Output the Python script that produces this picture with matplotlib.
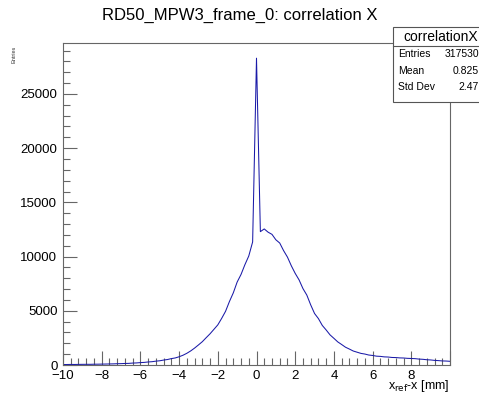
import numpy as np
import matplotlib
matplotlib.use("Agg")
import matplotlib.pyplot as plt
from matplotlib.patches import Rectangle
from matplotlib.ticker import MultipleLocator

plt.rcParams['font.family'] = ['Liberation Sans', 'DejaVu Sans']

# x_ref - x [mm], sampled every 0.2 mm from -10 to 10
x_mm = np.round(np.arange(-10, 10.001, 0.2), 1)

# counts (one per x_mm point)
counts = [
    40, 45, 52, 48, 56, 60, 63, 62, 72, 75,                              # -10.0 .. -8.2
    82, 88, 97, 104, 118, 126, 142, 150, 178, 192,                       # -8.0 .. -6.2
    222, 240, 280, 305, 355, 390, 455, 505, 590, 650,                    # -6.0 .. -4.2
    760, 900, 1080, 1300, 1560, 1850, 2150, 2520, 2880, 3290,            # -4.0 .. -2.2
    3700, 4300, 4950, 5850, 6650, 7650, 8350, 9250, 10050, 11350,        # -2.0 .. -0.2
    28300,                                                               # 0.0
    12300, 12550, 12250, 12050, 11550, 11250, 10550, 9950, 9150, 8450,   # 0.2 .. 2.0
    7850, 7050, 6450, 5550, 4750, 4280, 3650, 3230, 2780, 2460,          # 2.2 .. 4.0
    2130, 1890, 1640, 1470, 1290, 1180, 1070, 1010, 920, 880,            # 4.2 .. 6.0
    815, 795, 750, 735, 695, 685, 655, 645, 615, 600,                    # 6.2 .. 8.0
    585, 545, 525, 485, 465, 425, 405, 375, 365, 340,                    # 8.2 .. 10.0
]

x_ticks = [-10, -8, -6, -4, -2, 0, 2, 4, 6, 8, 10]
x_tick_labels = ["\u221210", "\u22128", "\u22126", "\u22124", "\u22122", "0", "2", "4", "6", "8", ""]

title = "RD50_MPW3_frame_0: correlation X"
stats_name = "correlationX"
stats_rows = [("Entries", "317530"), ("Mean", "0.825"), ("Std Dev", "2.47")]

W, H = 479, 395
fig = plt.figure(figsize=(W / 100, H / 100), dpi=100)
ax = fig.add_axes([63 / W, 1 - 365 / H, (450 - 63) / W, (365 - 43) / H])

ax.plot(x_mm, counts, color='#1a1aa8', lw=0.75)

ax.set_xlim(-10, 10)
ax.set_ylim(0, 29700)
ax.set_xticks(x_ticks)
ax.set_xticklabels(x_tick_labels)
ax.xaxis.set_minor_locator(MultipleLocator(0.4))
ax.yaxis.set_major_locator(MultipleLocator(5000))
ax.yaxis.set_minor_locator(MultipleLocator(1000))
ax.tick_params(which='both', direction='in', color='#666666', labelsize=9.5,
               top=False, right=False)
ax.tick_params(which='major', length=10, width=0.8)
ax.tick_params(which='minor', length=5, width=0.8)
ax.tick_params(axis='y', pad=4)
ax.tick_params(axis='x', pad=3.5)
for s in ax.spines.values():
    s.set_color('#666666')
    s.set_linewidth(0.8)

fig.text(240 / W, 1 - 15 / H, title, ha='center', va='center', fontsize=12)
fig.text(450 / W, 1 - 394 / H, r"x$_{\rm ref}$-x [mm]", ha='right', va='bottom', fontsize=9)
fig.text(14 / W, 1 - 46 / H, "Entries", rotation=90, ha='center', va='top',
         fontsize=4, color='#333333')

# stats box
bx0, by_top, by_bot = 393, 27, 102
fig.patches.append(Rectangle((bx0 / W, 1 - by_bot / H), (W + 5 - bx0) / W, (by_bot - by_top) / H,
                             transform=fig.transFigure, facecolor='white',
                             edgecolor='#555555', lw=0.8, zorder=5))
fig.lines.append(plt.Line2D([bx0 / W, 1.0], [1 - 46 / H, 1 - 46 / H],
                            transform=fig.transFigure, color='#555555', lw=0.8, zorder=6))
fig.text((bx0 + 48) / W, 1 - 37 / H, stats_name, ha='center', va='center', fontsize=10, zorder=7)
for i, (k, v) in enumerate(stats_rows):
    yy = 1 - (54 + i * 16.5) / H
    fig.text((bx0 + 5) / W, yy, k, ha='left', va='center', fontsize=7.5, zorder=7)
    fig.text(479 / W, yy, v, ha='right', va='center', fontsize=7.5, zorder=7)

fig.savefig("out.png", dpi=100)
